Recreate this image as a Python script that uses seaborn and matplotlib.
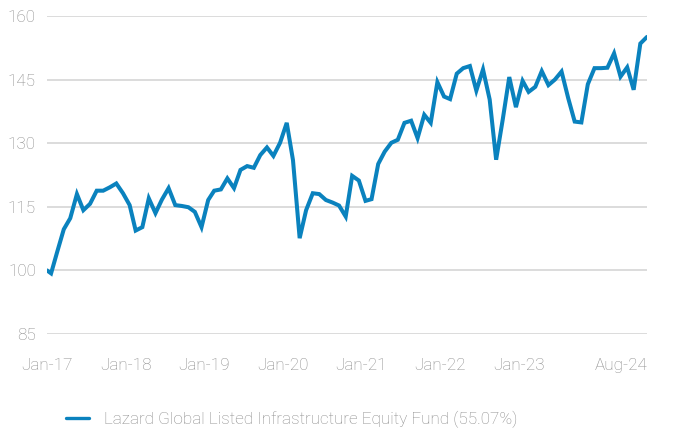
import numpy as np
import pandas as pd
import matplotlib
matplotlib.use("Agg")
import matplotlib.pyplot as plt
import seaborn as sns

# ---- data ----
inception_date = "2017-01-12"
month_start = "2017-01-31"
month_end = "2024-08-31"
series_name = "Lazard Global Listed Infrastructure Equity Fund (55.07%)"
inception_value = [100.0]
monthly_values = [
    99.3, 104.3, 109.7, 112.3, 118.0, 114.2, 115.7, 118.8, 118.8, 119.6, 120.5, 118.2,   # 2017
    115.4, 109.4, 110.2, 117.0, 113.5, 116.7, 119.4, 115.4, 115.2, 114.9, 113.8, 110.2,  # 2018
    116.6, 118.8, 119.1, 121.7, 119.4, 123.7, 124.6, 124.2, 127.2, 129.0, 127.0, 130.1,  # 2019
    134.8, 126.0, 107.6, 114.2, 118.2, 118.0, 116.6, 116.0, 115.3, 112.7, 122.3, 121.2,  # 2020
    116.4, 116.8, 125.1, 128.0, 130.1, 130.8, 134.8, 135.3, 131.2, 136.7, 134.8, 144.4,  # 2021
    141.0, 140.4, 146.4, 147.7, 148.2, 142.4, 147.4, 140.3, 126.1, 135.7, 145.6, 138.5,  # 2022
    144.7, 142.1, 143.3, 147.0, 143.7, 145.0, 146.9, 140.6, 135.1, 134.9, 143.9, 147.7,  # 2023
    147.7, 147.8, 151.2, 145.7, 147.9, 142.6, 153.5, 155.07,                             # 2024
]
y_ticks = [85, 100, 115, 130, 145, 160]
x_tick_labels = ["Jan-17", "Jan-18", "Jan-19", "Jan-20", "Jan-21", "Jan-22", "Jan-23"]
x_end_label = "Aug-24"

dates = pd.to_datetime([inception_date]).append(pd.date_range(month_start, month_end, freq="ME"))
df = pd.DataFrame({"date": dates, "value": inception_value + monthly_values, "series": series_name})

# ---- style ----
LINE = "#0A82BE"
GRID = "#D9D9D9"
TEXT = "#8A8A8A"
FS = 12.3
sns.set_theme(style="white")
plt.rcParams["font.family"] = ["Roboto", "DejaVu Sans"]

fig = plt.figure(figsize=(6.73, 4.32), dpi=100)
ax = fig.add_axes([47 / 673, 98 / 432, 600 / 673, 318 / 432])

sns.lineplot(data=df, x="date", y="value", hue="series", palette=[LINE],
             linewidth=2.9, ax=ax, legend=False, solid_joinstyle="miter")

ax.set_ylim(y_ticks[0], y_ticks[-1])
ax.set_xlim(df["date"].iloc[0], df["date"].iloc[-1])
ax.set_yticks(y_ticks)
ax.yaxis.grid(True, color=GRID, linewidth=1.3)
ax.xaxis.grid(False)
ax.set_axisbelow(True)
for s in ax.spines.values():
    s.set_visible(False)

tick_dates = [df["date"].iloc[0] + pd.DateOffset(years=k) for k in range(len(x_tick_labels))]
ax.set_xticks(tick_dates + [df["date"].iloc[-1]])
ax.set_xticklabels(x_tick_labels + [x_end_label])
ax.get_xticklabels()[-1].set_horizontalalignment("right")
ax.tick_params(axis="x", length=0, pad=17, labelsize=FS, labelcolor=TEXT)
ax.tick_params(axis="y", length=0, pad=8, labelsize=FS, labelcolor=TEXT)
for t in ax.get_xticklabels() + ax.get_yticklabels():
    t.set_fontweight("light")
ax.set_xlabel("")
ax.set_ylabel("")

handle = plt.Line2D([], [], color=LINE, linewidth=2.4)
leg = fig.legend([handle], [series_name], loc="center left",
                 bbox_to_anchor=(51 / 673, 1 - 419 / 432), frameon=False,
                 handlelength=1.35, handletextpad=0.85, fontsize=FS)
for t in leg.get_texts():
    t.set_color(TEXT)
    t.set_fontweight("light")

fig.savefig("out.png", dpi=100)
